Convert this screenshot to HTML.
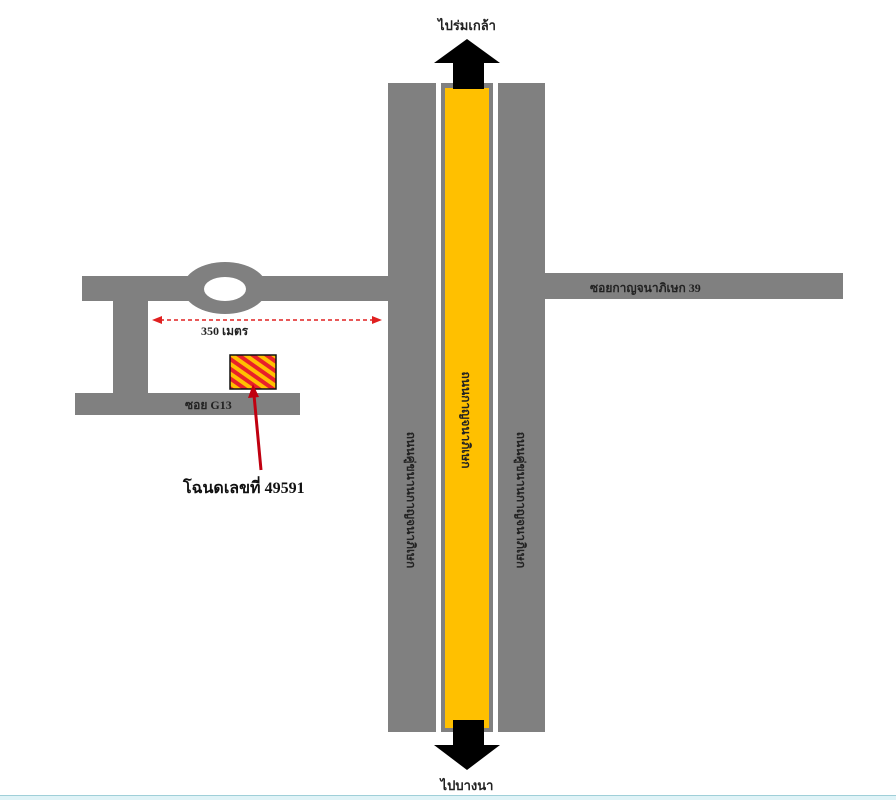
<!DOCTYPE html>
<html><head><meta charset="utf-8"><style>
html,body{margin:0;padding:0;background:#fff;}
svg{display:block;}
text{font-family:"Liberation Serif","Noto Serif CJK SC","Noto Sans CJK SC",serif;font-weight:bold;}
</style></head><body>
<svg width="896" height="800" viewBox="0 0 896 800" xmlns="http://www.w3.org/2000/svg">
<defs>
<pattern id="hatch" patternUnits="userSpaceOnUse" width="8" height="8" patternTransform="rotate(35)">
<rect width="8" height="8" fill="#ffc000"/>
<rect width="8" height="4" fill="#e8202a"/>
</pattern>
</defs>
<rect width="896" height="800" fill="#fff"/>
<!-- left horizontal road -->
<rect x="82" y="276" width="310" height="25" fill="#808080"/>
<ellipse cx="225" cy="288" rx="42" ry="26" fill="#808080"/>
<ellipse cx="225" cy="289" rx="21" ry="12" fill="#fff"/>
<rect x="113" y="300" width="35" height="95" fill="#808080"/>
<rect x="75" y="393" width="225" height="22" fill="#808080"/>
<text x="185" y="409" font-size="12" fill="#222">ซอย G13</text>
<!-- right road -->
<rect x="540" y="273" width="303" height="26" fill="#808080"/>
<text x="590" y="292" font-size="12" fill="#222">ซอยกาญจนาภิเษก 39</text>
<!-- vertical roads -->
<rect x="388" y="83" width="48" height="649" fill="#808080"/>
<rect x="441" y="83" width="52" height="649" fill="#808080"/>
<rect x="445" y="88" width="44" height="640" fill="#ffc000"/>
<rect x="498" y="83" width="47" height="649" fill="#808080"/>
<text transform="translate(407,500) rotate(90)" text-anchor="middle" font-size="12" fill="#222">ถนนคู่ขนานกาญจนาภิเษก</text>
<text transform="translate(462,420) rotate(90)" text-anchor="middle" font-size="12" fill="#222">ถนนกาญจนาภิเษก</text>
<text transform="translate(517,500) rotate(90)" text-anchor="middle" font-size="12" fill="#222">ถนนคู่ขนานกาญจนาภิเษก</text>
<!-- arrows -->
<polygon points="467,39 500,63 484,63 484,89 453,89 453,63 434,63" fill="#000"/>
<polygon points="453,720 484,720 484,745 500,745 467,770 434,745 453,745" fill="#000"/>
<text x="467" y="30" text-anchor="middle" font-size="13" fill="#222">ไปร่มเกล้า</text>
<text x="467" y="790" text-anchor="middle" font-size="13" fill="#222">ไปบางนา</text>
<!-- dashed distance -->
<line x1="160" y1="320" x2="374" y2="320" stroke="#e02020" stroke-width="1.5" stroke-dasharray="4,3"/>
<polygon points="152,320 162,316 162,324" fill="#e02020"/>
<polygon points="382,320 372,316 372,324" fill="#e02020"/>
<text x="201" y="335" font-size="12" fill="#222">350 เมตร</text>
<!-- plot -->
<rect x="230" y="355" width="46" height="34" fill="url(#hatch)" stroke="#111" stroke-width="1.5"/>
<line x1="261" y1="470" x2="254" y2="395" stroke="#c00010" stroke-width="3"/>
<polygon points="253,384 259,397 248,398" fill="#c00010"/>
<text x="183" y="493" font-size="16" fill="#111">โฉนดเลขที่ 49591</text>
<!-- bottom strip -->
<rect x="0" y="795" width="896" height="5" fill="#dff3f7"/>
<line x1="0" y1="795.5" x2="896" y2="795.5" stroke="#9fcfd8" stroke-width="1"/>
</svg>
</body></html>
